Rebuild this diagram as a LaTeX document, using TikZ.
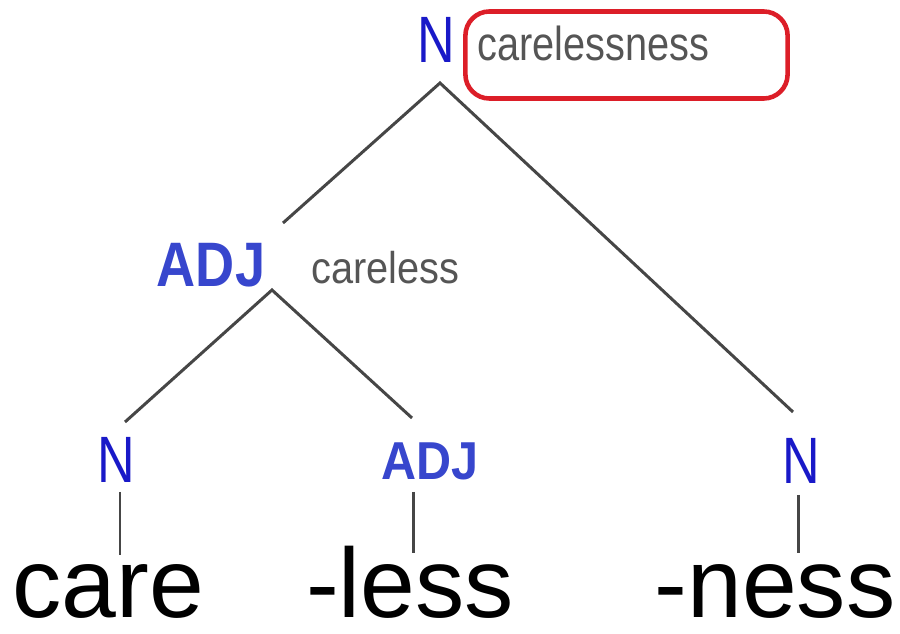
\documentclass[tikz,border=0pt]{standalone}
\usepackage{fontspec}
\setmainfont{Liberation Sans}
\definecolor{nblue}{RGB}{25,25,200}
\definecolor{adjblue}{RGB}{55,70,205}
\definecolor{labgray}{RGB}{85,85,85}
\definecolor{linegray}{RGB}{70,70,70}
\definecolor{boxred}{RGB}{220,30,40}
\newcommand{\vstretch}[2]{\scalebox{1}[#1]{#2}}
\tikzset{
  cat/.style={inner sep=0pt, anchor=base, text=nblue, font=\fontsize{14.8}{16}\selectfont},
  adjcat/.style={inner sep=0pt, anchor=base, text=adjblue, font=\bfseries\fontsize{#1}{16}\selectfont},
  gloss/.style={inner sep=0pt, anchor=base west, text=labgray, font=\fontsize{11.3}{13}\selectfont},
  morph/.style={inner sep=0pt, anchor=base, text=black, font=\fontsize{28}{30}\selectfont},
  branch/.style={draw=linegray, line width=0.85pt},
  redbox/.style={draw=boxred, line width=1.3pt, rounded corners=0.24cm, inner sep=0pt}
}
\begin{document}
\begin{tikzpicture}[x=0.01cm,y=-0.01cm]
\useasboundingbox (0,0) rectangle (900,634);
% red box
\node[redbox, minimum width=3.22cm, minimum height=0.87cm] (box) at (626.5,55) {};
% category labels
\node[cat] (top) at (436.5,63) {\vstretch{1.26}{N}};
\node[adjcat=15.4] (adj1) at (211,287) {\vstretch{1.16}{ADJ}};
\node[cat] (n1) at (116,482) {\vstretch{1.26}{N}};
\node[adjcat=13.8] (adj2) at (430,480) {\vstretch{1.1}{ADJ}};
\node[cat] (n2) at (801.5,483) {\vstretch{1.26}{N}};
% glosses
\node[gloss] (g1) at (477,61) {\vstretch{1.2}{carelessness}};
\node[gloss] (g2) at (311,284) {\vstretch{1.12}{careless}};
% morphemes
\node[morph] (care) at (108.5,617) {care};
\node[morph] (less) at (410,617) {-less};
\node[morph] (ness) at (775,617) {-ness};
% branch points
\coordinate (topfoot) at (440,83);
\coordinate (adjtop) at (283,223);
\coordinate (ntop) at (793,412);
\coordinate (adjfoot) at (272,290);
\coordinate (n1top) at (125,422);
\coordinate (adj2top) at (412,418);
\coordinate (n1foot) at (120,492);
\coordinate (carehead) at (120,555);
\coordinate (adj2foot) at (413,492);
\coordinate (lesshead) at (413,553);
\coordinate (n2foot) at (798,495);
\coordinate (nesshead) at (798,553);
% branches
\draw[branch] (adjtop) -- (topfoot) -- (ntop);
\draw[branch] (n1top) -- (adjfoot) -- (adj2top);
\draw[branch] (n1foot) -- (carehead);
\draw[branch] (adj2foot) -- (lesshead);
\draw[branch] (n2foot) -- (nesshead);
\end{tikzpicture}
\end{document}
